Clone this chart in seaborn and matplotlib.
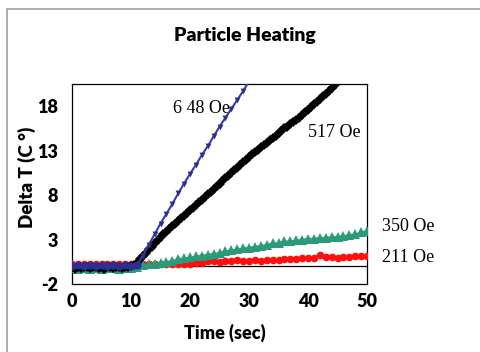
import matplotlib
matplotlib.use("Agg")
import matplotlib.pyplot as plt
import seaborn as sns
from matplotlib.lines import Line2D

sns.set_theme(style="white")
plt.rcParams['font.family'] = ['Lato', 'DejaVu Sans']
plt.rcParams['axes.unicode_minus'] = False

# ---- data ----
t_blue = list(range(0, 31))
blue_648 = [0.0, 0.1, 0.0, 0.1, 0.0, 0.1, 0.0, 0.1, 0.0, 0.1, 0.0, 0.1,
            1.2, 2.4, 3.6, 4.8, 5.9, 7.0, 8.2, 9.3, 10.4, 11.4, 12.5, 13.5,
            14.6, 15.7, 16.7, 17.7, 18.7, 19.7, 20.8]
blue_flat_n = 12

t_black = [i * 0.5 for i in range(0, 91)]
black_517 = [-0.1, -0.3, -0.1, -0.2, -0.1, -0.1, -0.2, -0.1, -0.1, -0.2, -0.1,
             -0.3, -0.1, -0.1, -0.2, -0.1, -0.1, -0.2, -0.1, -0.1, 0.0, 0.1,
             0.4, 0.8, 1.2, 1.5, 1.9, 2.2, 2.6, 2.9, 3.3, 3.6, 3.9, 4.2, 4.5, 4.8,
             5.1, 5.4, 5.7, 6.0, 6.3, 6.6, 6.9, 7.2, 7.5, 7.8, 8.1, 8.4, 8.7, 9.0,
             9.3, 9.6, 9.9, 10.2, 10.5, 10.8, 11.1, 11.4, 11.7, 12.0, 12.3, 12.6,
             12.9, 13.1, 13.4, 13.6, 13.9, 14.2, 14.4, 14.7, 15.0, 15.2, 15.5, 15.7,
             16.0, 16.2, 16.5, 16.7, 17.0, 17.3, 17.6, 17.9, 18.2, 18.5, 18.8, 19.1,
             19.4, 19.7, 20.1, 20.4, 20.8]

t_all = list(range(0, 51))
green_350 = [-0.2, -0.3, -0.2, -0.3, -0.2, -0.3, -0.2, -0.2, -0.3, -0.2, -0.2,
             -0.1, 0.1, 0.2, 0.3, 0.4, 0.5, 0.6, 0.8, 0.9, 1.0,
             1.1, 1.2, 1.3, 1.4, 1.5, 1.7, 1.8, 1.9, 2.0, 2.1,
             2.2, 2.3, 2.4, 2.6, 2.6, 2.8, 2.8, 2.9, 3.0, 3.1,
             3.1, 3.2, 3.2, 3.3, 3.3, 3.4, 3.5, 3.6, 3.8, 4.0]
red_211 = [0.2, 0.3, 0.2, 0.3, 0.2, 0.3, 0.2, 0.3, 0.2, 0.2, 0.3,
           0.2, 0.2, 0.2, 0.3, 0.2, 0.2, 0.3, 0.3, 0.3, 0.3, 0.4, 0.4,
           0.6, 0.6, 0.5, 0.6, 0.6, 0.7, 0.6, 0.6, 0.7, 0.6, 0.7, 0.7,
           0.7, 0.8, 0.8, 0.8, 0.9, 0.9, 0.9,
           1.3,
           1.0, 1.0, 0.9, 1.0, 1.0, 1.1, 1.2, 1.2]

labels = ["6 48 Oe", "517 Oe", "350 Oe", "211 Oe"]
label_pos = [(22.0, 17.7), (40.0, 15.0), (52.5, 4.5), (52.5, 1.0)]
label_ha = ["center", "left", "left", "left"]

x_ticks = [0, 10, 20, 30, 40, 50]
y_ticks = [-2, 3, 8, 13, 18]

# ---- figure ----
fig = plt.figure(figsize=(4.8, 3.52), dpi=100)
ax = fig.add_axes([72 / 480, 1 - 284 / 352, (367 - 72) / 480, (284 - 84) / 352])

# outer frame
fig.add_artist(Line2D([7 / 480, 7 / 480], [0, 1 - 9 / 352], transform=fig.transFigure,
                      color="#a0a0a0", lw=1.2))
fig.add_artist(Line2D([7 / 480, 1], [1 - 9 / 352, 1 - 9 / 352], transform=fig.transFigure,
                      color="#a0a0a0", lw=1.2))

ax.axhline(0, color="black", lw=0.9, zorder=1)

sns.lineplot(x=t_all, y=red_211, ax=ax, color="#ff1010", lw=1.2, marker="o",
             markersize=5.5, markeredgewidth=0, zorder=3)
sns.lineplot(x=t_all, y=green_350, ax=ax, color="#2a9a78", lw=1.2, marker="^",
             markersize=6.5, markeredgewidth=0, zorder=4)
sns.lineplot(x=t_black, y=black_517, ax=ax, color="black", lw=1.4, marker="D",
             markersize=4.6, markeredgewidth=0, zorder=5)
sns.lineplot(x=t_blue, y=blue_648, ax=ax, color="#3a3aaa", lw=1.5, zorder=6)
sns.scatterplot(x=t_blue[:blue_flat_n], y=blue_648[:blue_flat_n], ax=ax,
                color="#2d2f8f", marker="o", s=34, linewidth=0, zorder=7)
sns.scatterplot(x=t_blue[blue_flat_n:], y=blue_648[blue_flat_n:], ax=ax,
                color="#2d2f8f", marker="v", s=18, linewidth=0, zorder=7)

ax.set_xlim(0, 50)
ax.set_ylim(-2, 20.5)
ax.set_xticks(x_ticks)
ax.set_yticks(y_ticks)
ax.tick_params(axis="both", length=0, labelsize=13, colors="black")
ax.tick_params(axis="y", pad=10)
ax.tick_params(axis="x", pad=6.5)
for lab in ax.get_xticklabels() + ax.get_yticklabels():
    lab.set_fontweight("heavy")
for s in ax.spines.values():
    s.set_color("black")
    s.set_linewidth(0.9)

ax.set_xlabel("Time (sec)", fontsize=13, fontweight="heavy", color="black")
ax.set_ylabel("Delta T (C °)", fontsize=13.5, fontweight="heavy", color="black")
ax.xaxis.label.set_va("center")
ax.yaxis.label.set_va("center")
ax.xaxis.set_label_coords((225 - 72) / 295, (284 - 333) / 200)
ax.yaxis.set_label_coords((27 - 72) / 295, (284 - 177) / 200)

fig.text(245 / 480, 1 - 35 / 352, "Particle Heating", ha="center", va="center",
         fontsize=14, fontweight="heavy", color="black")

for lab, (lx, ly), ha in zip(labels, label_pos, label_ha):
    ax.text(lx, ly, lab, ha=ha, va="center",
            fontsize=13, family=["Liberation Serif", "DejaVu Serif"], color="black",
            clip_on=False)

fig.savefig("out.png", dpi=100)
